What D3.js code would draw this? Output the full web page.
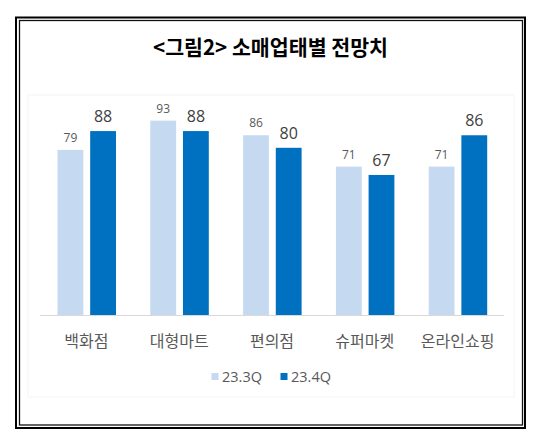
<!DOCTYPE html>
<html><head><meta charset="utf-8">
<script src="https://cdn.jsdelivr.net/npm/d3@7"></script>
<style>html,body{margin:0;padding:0;background:#fff;}svg{display:block;}</style>
</head><body>
<svg id="chart" width="540" height="437"></svg>
<script>
const categories = ["백화점", "대형마트", "편의점", "슈퍼마켓", "온라인쇼핑"];
const seriesNames = ["23.3Q", "23.4Q"];
const values23Q3 = [79, 93, 86, 71, 71];
const values23Q4 = [88, 88, 80, 67, 86];
const colors = ["#c5d9f1", "#0070c0"];
const title = "<그림2> 소매업태별 전망치";

const svg = d3.select("#chart");
const seriesValues = [values23Q3, values23Q4];
const rows = categories.map((c, i) => ({cat: c, vals: seriesNames.map((s, j) => ({s, j, v: seriesValues[j][i]}))}));

// frame
svg.append("rect").attr("x", 16).attr("y", 17.5).attr("width", 509).attr("height", 410.5)
  .attr("fill", "none").attr("stroke", "#000").attr("stroke-width", 2);
svg.append("rect").attr("x", 19.5).attr("y", 20.5).attr("width", 503).attr("height", 404.5)
  .attr("fill", "none").attr("stroke", "#111").attr("stroke-width", 1.3);
// faint chart area border
svg.append("rect").attr("x", 28).attr("y", 95).attr("width", 486).attr("height", 302)
  .attr("fill", "none").attr("stroke", "#f4f4f4").attr("stroke-width", 1);

// title
svg.append("text").attr("x", 270.5).attr("y", 55).attr("text-anchor", "middle")
  .attr("font-family", "'Noto Sans CJK KR', sans-serif").attr("font-size", 21).attr("font-weight", 700)
  .attr("fill", "#000").attr("textLength", 235).attr("lengthAdjust", "spacingAndGlyphs")
  .text(title);

const x0 = d3.scaleBand().domain(categories).range([40, 504]).padding(0);
const x1 = d3.scaleBand().domain(seriesNames).range([17.5, 76]).paddingInner(0.21);
const y = d3.scaleLinear().domain([0, 100]).range([315, 106]);

const g = svg.append("g");
const groups = g.selectAll("g.grp").data(rows).join("g").attr("class", "grp")
  .attr("transform", d => `translate(${x0(d.cat)},0)`);

groups.selectAll("rect").data(d => d.vals).join("rect")
  .attr("x", d => x1(d.s)).attr("width", x1.bandwidth())
  .attr("y", d => y(d.v)).attr("height", d => y(0) - y(d.v))
  .attr("fill", d => colors[d.j]);

groups.selectAll("text.lbl").data(d => d.vals).join("text").attr("class", "lbl")
  .attr("x", d => x1(d.s) + x1.bandwidth() / 2)
  .attr("y", d => y(d.v) - (d.j === 0 ? 8 : 9))
  .attr("text-anchor", "middle")
  .attr("font-family", "'Open Sans', sans-serif")
  .attr("font-size", d => d.j === 0 ? 12 : 16)
  .attr("fill", d => d.j === 0 ? "#595959" : "#404040")
  .text(d => d.v);

// baseline
svg.append("line").attr("x1", 40).attr("x2", 504).attr("y1", y(0) + 0.5).attr("y2", y(0) + 0.5)
  .attr("stroke", "#d9d9d9").attr("stroke-width", 1);

// category axis labels
const xAxis = d3.axisBottom(x0).tickSize(0).tickPadding(0);
const ax = svg.append("g").attr("transform", `translate(0,${y(0)})`).call(xAxis);
ax.select(".domain").remove();
ax.selectAll("text").attr("dy", 0).attr("y", 32)
  .attr("font-family", "'Noto Sans CJK KR', sans-serif").attr("font-size", 16)
  .attr("fill", "#595959");

// legend
const legendX = [211.5, 280.5];
const lg = svg.append("g").selectAll("g").data(seriesNames).join("g")
  .attr("transform", (d, i) => `translate(${legendX[i]},373)`);
lg.append("rect").attr("width", 7).attr("height", 7).attr("fill", (d, i) => colors[i]);
lg.append("text").attr("x", 10.5).attr("y", 9)
  .attr("font-family", "'Open Sans', sans-serif").attr("font-size", 14.5).attr("fill", "#595959")
  .text(d => d);
</script>
</body></html>
